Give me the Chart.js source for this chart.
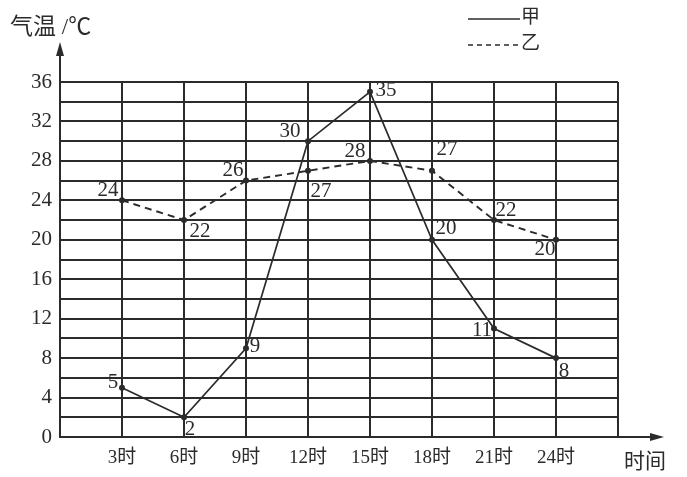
<!DOCTYPE html>
<html>
<head>
<meta charset="utf-8">
<script src="https://cdn.jsdelivr.net/npm/chart.js@4.4.1/dist/chart.umd.min.js"></script>
<style>
  body { margin: 0; background: #fff; }
  #wrap { position: relative; width: 687px; height: 477px; }
</style>
</head>
<body>
<div id="wrap"><canvas id="chart" width="687" height="477"></canvas></div>
<script>
// data
const hours = [3, 6, 9, 12, 15, 18, 21, 24];
const tempJia = [5, 2, 9, 30, 35, 20, 11, 8];
const tempYi = [24, 22, 26, 27, 28, 27, 22, 20];
const seriesNames = ["甲", "乙"];
const yLabelStep = 4;

// where each value label sits relative to its point (px)
const jiaLabelOffset = [[-9, -5], [6, 12], [9, -2], [-18, -10], [16, -1], [14, -11], [-12, 2], [8, 13]];
const yiLabelOffset = [[-14, -10], [16, 11], [-13, -10], [13, 21], [-15, -9], [15, -21], [12, -10], [-11, 10]];

const ink = "#2b2b2b";
const font = "'Liberation Serif', 'Noto Sans CJK SC', serif";

const valueLabels = {
  id: "valueLabels",
  afterDatasetsDraw(chart) {
    const ctx = chart.ctx;
    ctx.save();
    ctx.fillStyle = ink;
    ctx.font = "21px " + font;
    ctx.textAlign = "center";
    ctx.textBaseline = "middle";
    [jiaLabelOffset, yiLabelOffset].forEach((offs, di) => {
      const meta = chart.getDatasetMeta(di);
      const vals = chart.data.datasets[di].data;
      meta.data.forEach((pt, i) => {
        ctx.fillText(String(vals[i].y), pt.x + offs[i][0], pt.y + offs[i][1]);
      });
    });
    ctx.restore();
  }
};

const axesDecor = {
  id: "axesDecor",
  afterDraw(chart) {
    const ctx = chart.ctx;
    const a = chart.chartArea;
    ctx.save();
    ctx.strokeStyle = ink;
    ctx.fillStyle = ink;
    ctx.lineWidth = 2;
    // y axis arrow
    ctx.beginPath();
    ctx.moveTo(a.left, a.top);
    ctx.lineTo(a.left, 52);
    ctx.stroke();
    ctx.beginPath();
    ctx.moveTo(a.left, 42);
    ctx.lineTo(a.left - 4, 56);
    ctx.lineTo(a.left + 4, 56);
    ctx.closePath();
    ctx.fill();
    // x axis arrow
    ctx.beginPath();
    ctx.moveTo(a.right, a.bottom);
    ctx.lineTo(652, a.bottom);
    ctx.stroke();
    ctx.beginPath();
    ctx.moveTo(664, a.bottom);
    ctx.lineTo(650, a.bottom - 4);
    ctx.lineTo(650, a.bottom + 4);
    ctx.closePath();
    ctx.fill();
    // axis titles
    ctx.font = "23px " + font;
    ctx.textBaseline = "middle";
    ctx.textAlign = "left";
    ctx.fillText("气温 /℃", 10, 28);
    ctx.font = "21px " + font;
    ctx.fillText("时间", 624, 462);
    // legend
    ctx.font = "19px " + font;
    ctx.lineWidth = 1.5;
    ctx.beginPath();
    ctx.moveTo(468, 19);
    ctx.lineTo(520, 19);
    ctx.stroke();
    ctx.fillText(seriesNames[0], 521, 18);
    ctx.setLineDash([5, 4]);
    ctx.beginPath();
    ctx.moveTo(468, 45);
    ctx.lineTo(520, 45);
    ctx.stroke();
    ctx.setLineDash([]);
    ctx.fillText(seriesNames[1], 521, 44);
    ctx.restore();
  }
};

new Chart(document.getElementById("chart"), {
  type: "line",
  data: {
    datasets: [
      {
        label: seriesNames[0],
        data: hours.map((h, i) => ({ x: h, y: tempJia[i] })),
        borderColor: ink,
        borderWidth: 1.7,
        pointRadius: 3,
        pointBackgroundColor: ink,
        pointBorderWidth: 0,
        tension: 0
      },
      {
        label: seriesNames[1],
        data: hours.map((h, i) => ({ x: h, y: tempYi[i] })),
        borderColor: ink,
        borderWidth: 1.9,
        borderDash: [7, 5],
        pointRadius: 3,
        pointBackgroundColor: ink,
        pointBorderWidth: 0,
        tension: 0
      }
    ]
  },
  options: {
    responsive: false,
    animation: false,
    layout: { padding: { top: 82, right: 69, left: 0, bottom: 0 } },
    plugins: { legend: { display: false }, tooltip: { enabled: false } },
    scales: {
      x: {
        type: "linear",
        min: 0,
        max: 27,
        afterBuildTicks(scale) {
          const t = [];
          for (let v = 0; v <= 27; v += 3) t.push({ value: v });
          scale.ticks = t;
        },
        afterFit(scale) { scale.height = 40; },
        grid: { color: ink, lineWidth: 2, drawTicks: false },
        border: { color: ink, width: 2 },
        ticks: {
          autoSkip: false,
          color: ink,
          padding: 10,
          font: { family: font, size: 19 },
          callback: v => hours.includes(v) ? v + "时" : ""
        }
      },
      y: {
        min: 0,
        max: 36,
        afterBuildTicks(scale) {
          const t = [];
          for (let v = 0; v <= 36; v += 2) t.push({ value: v });
          scale.ticks = t;
        },
        afterFit(scale) { scale.width = 60; },
        grid: { color: ink, lineWidth: 2, drawTicks: false },
        border: { color: ink, width: 2 },
        ticks: {
          autoSkip: false,
          color: ink,
          padding: 8,
          font: { family: font, size: 21 },
          callback: v => v % yLabelStep === 0 ? v : ""
        }
      }
    }
  },
  plugins: [valueLabels, axesDecor]
});
</script>
</body>
</html>
